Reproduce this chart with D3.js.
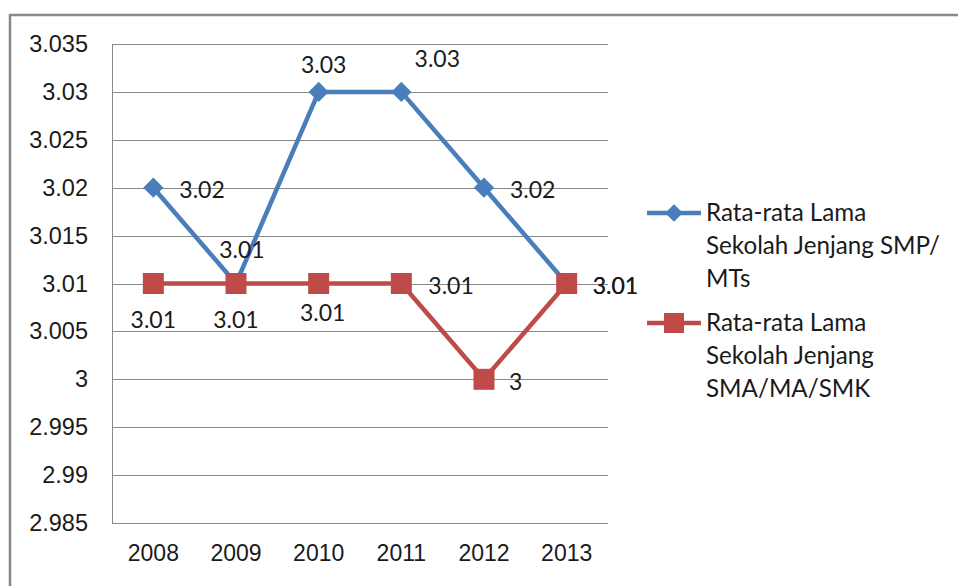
<!DOCTYPE html>
<html><head><meta charset="utf-8">
<script src="https://cdn.jsdelivr.net/npm/d3@7"></script>
<style>body{margin:0;background:#fff;}svg{display:block;font-family:Lato,"Open Sans",sans-serif;}</style>
</head><body><svg id="c" width="958" height="586"></svg>
<script>
const years = ["2008","2009","2010","2011","2012","2013"];
const smp = [3.02, 3.01, 3.03, 3.03, 3.02, 3.01];
const sma = [3.01, 3.01, 3.01, 3.01, 3.00, 3.01];
const smpLabels = ["3.02","3.01","3.03","3.03","3.02","3.01"];
const smaLabels = ["3.01","3.01","3.01","3.01","3","3.01"];
const yTicks = [2.985,2.99,2.995,3,3.005,3.01,3.015,3.02,3.025,3.03,3.035];
const yTickLabels = ["2.985","2.99","2.995","3","3.005","3.01","3.015","3.02","3.025","3.03","3.035"];
const seriesNames = [["Rata-rata Lama","Sekolah Jenjang SMP/","MTs"],["Rata-rata Lama","Sekolah Jenjang","SMA/MA/SMK"]];
// label placement styles
const smpPlace = [[26,2,"start"],[6,-34,"middle"],[5,-27,"middle"],[36,-33,"middle"],[26,2,"start"],[26,2,"start"]];
const smaPlace = [[0,36,"middle"],[0,36,"middle"],[4,29,"middle"],[27,2,"start"],[25,3,"start"],[26,2,"start"]];

const svg = d3.select("#c");
const blue = "#4A7EBB", red = "#BE4B48";
const FS = 23, LFS = 24.2;
svg.append("path").attr("d","M10,586V15H958").attr("fill","none").attr("stroke","#898989").attr("stroke-width",2.5);

const x = d3.scaleBand().domain(years).range([112,608]);
const y = d3.scaleLinear().domain([2.985,3.035]).range([523,44]);

const g = svg.append("g");
g.selectAll("line.grid").data(yTicks).join("line")
  .attr("x1",112).attr("x2",608).attr("y1",d=>Math.round(y(d))+0.5).attr("y2",d=>Math.round(y(d))+0.5)
  .attr("stroke","#888").attr("stroke-width",1);
g.append("line").attr("x1",112.5).attr("x2",112.5).attr("y1",44).attr("y2",523).attr("stroke","#888");

const yAxis = d3.axisLeft(y).tickValues(yTicks).tickFormat((d,i)=>yTickLabels[i]).tickSize(0).tickPadding(24);
const ya = svg.append("g").attr("transform","translate(112,0)").call(yAxis);
ya.select(".domain").remove();
ya.selectAll("text").attr("font-size",23.5).attr("fill","#1a1a1a").attr("font-family","inherit");

const xAxis = d3.axisBottom(x).tickSize(0).tickPadding(22);
const xa = svg.append("g").attr("transform","translate(0,523)").call(xAxis);
xa.select(".domain").remove();
xa.selectAll("text").attr("font-size",FS).attr("fill","#1a1a1a").attr("font-family","inherit");

const cx = d => x(d) + x.bandwidth()/2;
const line = d3.line().x((d,i)=>cx(years[i])).y(d=>y(d));

svg.append("path").datum(smp).attr("d",line).attr("fill","none").attr("stroke",blue).attr("stroke-width",4.5).attr("stroke-linejoin","round");
svg.append("path").datum(sma).attr("d",line).attr("fill","none").attr("stroke",red).attr("stroke-width",4.5).attr("stroke-linejoin","round");

svg.selectAll("path.dia").data(smp).join("path")
  .attr("d",d3.symbol(d3.symbolDiamond2,260)())
  .attr("transform",(d,i)=>`translate(${cx(years[i])},${y(d)})`).attr("fill",blue);
svg.selectAll("rect.sq").data(sma).join("rect")
  .attr("x",(d,i)=>cx(years[i])-10.5).attr("y",d=>y(d)-10.5).attr("width",21).attr("height",21).attr("fill",red);

function labels(vals,labs,place){
  svg.append("g").selectAll("text").data(vals).join("text")
    .attr("x",(d,i)=>cx(years[i])+place[i][0]).attr("y",(d,i)=>y(d)+place[i][1])
    .attr("dy","0.35em").attr("text-anchor",(d,i)=>place[i][2])
    .attr("font-size",FS).attr("fill","#1a1a1a").text((d,i)=>labs[i]);
}
labels(smp,smpLabels,smpPlace);
labels(sma,smaLabels,smaPlace);

const lg = svg.append("g");
const legY = [213,323];
const cols = [blue,red];
legY.forEach((ly,k)=>{
  lg.append("line").attr("x1",647).attr("x2",701).attr("y1",ly).attr("y2",ly).attr("stroke",cols[k]).attr("stroke-width",4.5);
  if(k===0) lg.append("path").attr("d",d3.symbol(d3.symbolDiamond2,200)()).attr("transform",`translate(674,${ly})`).attr("fill",blue);
  else lg.append("rect").attr("x",664).attr("y",ly-10).attr("width",20).attr("height",20).attr("fill",red);
  seriesNames[k].forEach((t,j)=>{
    lg.append("text").attr("x",706).attr("y",ly+j*33).attr("dy","0.35em").attr("font-size",LFS).attr("fill","#1a1a1a").text(t);
  });
});
</script></body></html>
